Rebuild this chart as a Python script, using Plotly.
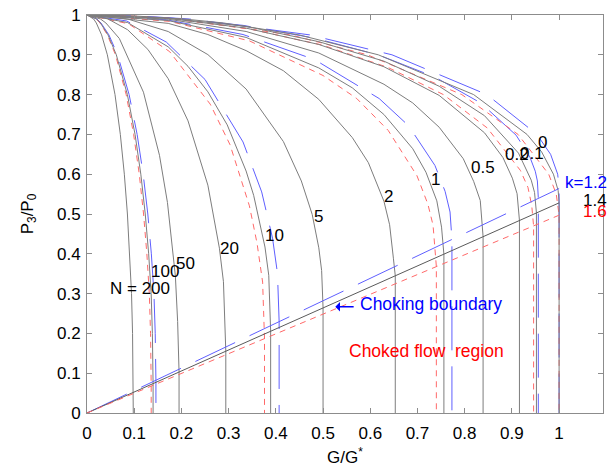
import plotly.graph_objects as go

# ---------------- data ----------------
# k = 1.4 (grey solid), friction parameter N
g14_n0 = [0, 0.1, 0.205, 0.289, 0.449, 0.617, 0.819, 0.932, 0.963, 0.988, 0.998, 1.0, 1.0]
p14_n0 = [1, 0.9976, 0.99, 0.98, 0.95, 0.9, 0.8, 0.7, 0.656, 0.6, 0.559, 0.528, 0]
g14_n01 = [0, 0.172, 0.337, 0.491, 0.629, 0.746, 0.842, 0.914, 0.941, 0.948, 0.952, 0.952]
p14_n01 = [1, 0.992, 0.9715, 0.933, 0.884, 0.821, 0.747, 0.653, 0.585, 0.554, 0.503, 0]
g14_n02 = [0, 0.172, 0.337, 0.491, 0.629, 0.746, 0.842, 0.881, 0.901, 0.911, 0.916, 0.916]
p14_n02 = [1, 0.9916, 0.967, 0.926, 0.870, 0.798, 0.704, 0.642, 0.590, 0.551, 0.484, 0]
g14_n05 = [0, 0.172, 0.337, 0.491, 0.629, 0.690, 0.746, 0.797, 0.819, 0.833, 0.839, 0.839]
p14_n05 = [1, 0.9895, 0.9586, 0.9045, 0.826, 0.779, 0.718, 0.639, 0.582, 0.534, 0.4435, 0]
g14_n1 = [0, 0.172, 0.337, 0.491, 0.562, 0.629, 0.690, 0.718, 0.741, 0.751, 0.756, 0.756]
p14_n1 = [1, 0.986, 0.9437, 0.867, 0.817, 0.750, 0.664, 0.605, 0.533, 0.467, 0.399, 0]
g14_n2 = [0, 0.172, 0.256, 0.337, 0.416, 0.491, 0.562, 0.596, 0.629, 0.641, 0.649, 0.653, 0.653]
p14_n2 = [1, 0.979, 0.951, 0.9105, 0.860, 0.788, 0.692, 0.629, 0.532, 0.473, 0.389, 0.345, 0]
g14_n5 = [0, 0.086, 0.172, 0.256, 0.337, 0.416, 0.454, 0.477, 0.491, 0.497, 0.500, 0.500]
p14_n5 = [1, 0.990, 0.9585, 0.9005, 0.814, 0.682, 0.583, 0.499, 0.415, 0.358, 0.265, 0]
g14_n10 = [0, 0.086, 0.172, 0.214, 0.256, 0.297, 0.337, 0.353, 0.377, 0.385, 0.389, 0.389]
p14_n10 = [1, 0.981, 0.920, 0.871, 0.807, 0.724, 0.608, 0.547, 0.417, 0.346, 0.206, 0]
g14_n20 = [0, 0.043, 0.086, 0.129, 0.172, 0.214, 0.256, 0.2805, 0.289, 0.294, 0.294]
p14_n20 = [1, 0.991, 0.963, 0.9135, 0.840, 0.734, 0.5725, 0.414, 0.330, 0.155, 0]
g14_n50 = [0, 0.0285, 0.040, 0.0685, 0.1196, 0.1535, 0.1704, 0.1872, 0.192, 0.195, 0.195]
p14_n50 = [1, 0.99, 0.98, 0.941, 0.806, 0.6475, 0.529, 0.344, 0.23, 0.103, 0]
g14_n100 = [0, 0.0201, 0.0284, 0.0445, 0.0621, 0.0855, 0.1018, 0.1140, 0.1234, 0.1306, 0.1359, 0.1385, 0.140, 0.140]
p14_n100 = [1, 0.99, 0.98, 0.95, 0.9, 0.8, 0.7, 0.6, 0.5, 0.4, 0.3, 0.2, 0.074, 0]
g14_n200 = [0, 0.0140, 0.0197, 0.0309, 0.0431, 0.0593, 0.0706, 0.0791, 0.0856, 0.0906, 0.0943, 0.0965, 0.098, 0.098]
p14_n200 = [1, 0.99, 0.98, 0.95, 0.9, 0.8, 0.7, 0.6, 0.5, 0.4, 0.3, 0.2, 0.052, 0]

# k = 1.2 (blue dashed)
g12_n0 = [0, 0.1, 0.217, 0.472, 0.646, 0.847, 0.953, 0.982, 0.997, 1.0, 1.0]
p12_n0 = [1, 0.9979, 0.99, 0.95, 0.9, 0.8, 0.7, 0.65, 0.6, 0.5645, 0]
g12_n01 = [0, 0.168, 0.3305, 0.482, 0.619, 0.737, 0.834, 0.909, 0.938, 0.9495, 0.954, 0.956, 0.956]
p12_n01 = [1, 0.9935, 0.974, 0.942, 0.899, 0.844, 0.779, 0.698, 0.6435, 0.6075, 0.583, 0.540, 0]
g12_n1 = [0, 0.168, 0.3305, 0.482, 0.619, 0.681, 0.737, 0.7585, 0.769, 0.773, 0.773]
p12_n1 = [1, 0.988, 0.951, 0.888, 0.790, 0.722, 0.622, 0.557, 0.505, 0.436, 0]
g12_n10 = [0, 0.084, 0.168, 0.250, 0.3305, 0.370, 0.393, 0.4035, 0.407, 0.407]
p12_n10 = [1, 0.985, 0.932, 0.838, 0.681, 0.5555, 0.4395, 0.351, 0.230, 0]
g12_n100 = [0, 0.0210, 0.0296, 0.0464, 0.0648, 0.0892, 0.1062, 0.1190, 0.1288, 0.1363, 0.1418, 0.1445, 0.146, 0.146]
p12_n100 = [1, 0.99, 0.98, 0.95, 0.9, 0.8, 0.7, 0.6, 0.5, 0.4, 0.3, 0.2, 0.082, 0]

# k = 1.6 (red dashed)
g16_n0 = [0, 0.1, 0.197, 0.431, 0.594, 0.794, 0.913, 0.978, 0.994, 1.0, 1.0]
p16_n0 = [1, 0.9974, 0.99, 0.95, 0.9, 0.8, 0.7, 0.6, 0.55, 0.497, 0]
g16_n01 = [0, 0.175, 0.344, 0.5, 0.638, 0.755, 0.848, 0.918, 0.934, 0.942, 0.946, 0.946]
p16_n01 = [1, 0.991, 0.965, 0.924, 0.868, 0.800, 0.716, 0.6095, 0.567, 0.522, 0.470, 0]
g16_n1 = [0, 0.175, 0.344, 0.5, 0.5715, 0.638, 0.699, 0.722, 0.733, 0.740, 0.740]
p16_n1 = [1, 0.984, 0.935, 0.848, 0.790, 0.710, 0.596, 0.525, 0.472, 0.368, 0]
g16_n10 = [0, 0.088, 0.175, 0.261, 0.303, 0.344, 0.360, 0.372, 0.376, 0.376]
p16_n10 = [1, 0.978, 0.908, 0.776, 0.674, 0.5205, 0.428, 0.329, 0.187, 0]
g16_n100 = [0, 0.0195, 0.0275, 0.0432, 0.0603, 0.0830, 0.0988, 0.1107, 0.1198, 0.1268, 0.1320, 0.1346, 0.136, 0.136]
p16_n100 = [1, 0.99, 0.98, 0.95, 0.9, 0.8, 0.7, 0.6, 0.5, 0.4, 0.3, 0.2, 0.068, 0]

# choking boundary lines
boundary_g = [0, 1]
boundary_p12 = [0, 0.564]
boundary_p14 = [0, 0.528]
boundary_p16 = [0, 0.497]

n_labels = ["N = 200", "100", "50", "20", "10", "5", "2", "1", "0.5", "0.2", "0.1", "0"]
k_labels = ["k=1.2", "1.4", "1.6"]

# ---------------- styles ----------------
GREY = "rgb(125,125,125)"
BLUE = "rgb(95,95,255)"
RED = "rgb(255,105,105)"
FONT = "Liberation Sans, Arial, sans-serif"

fig = go.Figure()


def add(x, y, color, dash="solid", width=1.0):
    fig.add_trace(go.Scatter(x=x, y=y, mode="lines", hoverinfo="skip",
                             line=dict(color=color, width=width, dash=dash),
                             showlegend=False))


grey_curves = [(g14_n0, p14_n0), (g14_n01, p14_n01), (g14_n02, p14_n02),
               (g14_n05, p14_n05), (g14_n1, p14_n1), (g14_n2, p14_n2),
               (g14_n5, p14_n5), (g14_n10, p14_n10), (g14_n20, p14_n20),
               (g14_n50, p14_n50), (g14_n100, p14_n100), (g14_n200, p14_n200)]
blue_curves = [(g12_n0, p12_n0), (g12_n01, p12_n01), (g12_n1, p12_n1),
               (g12_n10, p12_n10), (g12_n100, p12_n100)]
red_curves = [(g16_n0, p16_n0), (g16_n01, p16_n01), (g16_n1, p16_n1),
              (g16_n10, p16_n10), (g16_n100, p16_n100)]

BLUE_DASH = "44px,16px"
RED_DASH = "6px,5px"

for x, y in blue_curves:
    add(x, y, BLUE, BLUE_DASH)
for x, y in red_curves:
    add(x, y, RED, RED_DASH)
for x, y in grey_curves:
    add(x, y, GREY)

add(boundary_g, boundary_p12, BLUE, BLUE_DASH)
add(boundary_g, boundary_p14, "rgb(90,90,90)")
add(boundary_g, boundary_p16, RED, RED_DASH)

# ---------------- annotations ----------------
ann = []
n_pos = [(0.112, 0.314), (0.166, 0.355), (0.2095, 0.376), (0.302, 0.414),
         (0.397, 0.447), (0.491, 0.493), (0.6386, 0.5435), (0.738, 0.586),
         (0.839, 0.617), (0.911, 0.6485), (0.943, 0.652), (0.965, 0.679)]
for txt, (px, py) in zip(n_labels, n_pos):
    ann.append(dict(x=px, y=py, text=txt, showarrow=False, xanchor="center",
                    yanchor="middle", font=dict(family=FONT, size=17, color="black")))

k_pos = [0.579, 0.535, 0.506]
k_col = ["blue", "black", "red"]
for txt, py, c in zip(k_labels, k_pos, k_col):
    ann.append(dict(x=1.0116, xref="paper", y=py, yref="y", text=txt, showarrow=False,
                    xanchor="right", yanchor="middle",
                    font=dict(family=FONT, size=17, color=c)))

ann.append(dict(x=0.574, y=0.2735, text="Choking boundary", showarrow=False,
                xanchor="left", yanchor="middle",
                font=dict(family=FONT, size=17.5, color="blue")))
ann.append(dict(x=0.526, y=0.267, ax=0.568, ay=0.267, axref="x", ayref="y",
                xref="x", yref="y", text="", showarrow=True, arrowhead=1,
                arrowsize=1.2, arrowwidth=1.3, arrowcolor="blue"))
ann.append(dict(x=0.550, y=0.1565, text="Choked flow\u00a0\u00a0region", showarrow=False,
                xanchor="left", yanchor="middle",
                font=dict(family=FONT, size=17.5, color="red")))

ticks = [round(0.1 * i, 1) for i in range(11)]
tick_text = ["0" if t == 0 else ("1" if t == 1 else str(t)) for t in ticks]

axis_common = dict(showgrid=False, zeroline=False, showline=True, linecolor="rgb(140,140,140)",
                   linewidth=1, mirror="ticks", ticks="inside", ticklen=5,
                   tickcolor="rgb(140,140,140)", tickwidth=1, automargin=False,
                   ticklabeloverflow="allow",
                   tickfont=dict(family=FONT, size=17, color="black"),
                   tickvals=ticks, ticktext=tick_text)

fig.update_layout(
    width=615, height=468,
    margin=dict(l=87, r=12, t=15, b=55),
    paper_bgcolor="white", plot_bgcolor="white",
    annotations=ann,
    xaxis=dict(range=[0, 1.093], ticklabelstandoff=5,
               title=dict(text="G/G<sup>*</sup>", standoff=8,
                          font=dict(family=FONT, size=17, color="black")),
               **axis_common),
    yaxis=dict(range=[0, 1], ticklabelstandoff=2,
               title=dict(text="P<sub>3</sub>/P<sub>0</sub>", standoff=19,
                          font=dict(family=FONT, size=17, color="black")),
               **axis_common),
)

# remove the default 8 px page margin so the figure sits at the window's corner
fig.write_html("out.html", config={"displayModeBar": False},
               post_script="document.body.style.margin='0px';")
